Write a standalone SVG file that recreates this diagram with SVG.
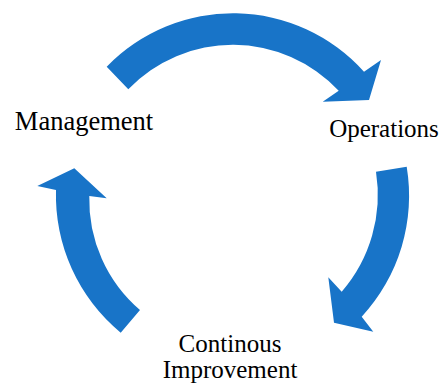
<svg xmlns="http://www.w3.org/2000/svg" width="446" height="383" viewBox="0 0 446 383">
<style>
.arrow{fill:#1874C8;stroke:none}
.lbl{font-size:25px;fill:#000;text-anchor:middle}
</style>
<rect width="446" height="383" fill="#fff"/>
<g id="connectors">
<path id="arrow-top" class="arrow" d="M106.7,66.7 A176,176 0 0 1 364,71.7 L381,60 L369,100 L322.7,101.7 L338.7,90.7 A145,145 0 0 0 128.3,89.3 Z"/>
<path id="arrow-right" class="arrow" d="M406.7,166.7 A178,178 0 0 1 361.7,316.7 L373.3,331.7 L334,322.7 L328.3,277.3 L341.7,291.7 A148,148 0 0 0 376,171.7 Z"/>
<path id="arrow-left" class="arrow" d="M120.7,332.7 A178,178 0 0 1 56,190 L37.3,186 L74.3,168.3 L106.7,198.3 L89.3,196 A145,145 0 0 0 140,310 Z"/>
</g>
<g id="labels" font-family="'Liberation Serif', 'DejaVu Serif', 'Times New Roman', serif">
<g id="management"><text class="lbl" x="84" y="130" style="font-size:26.5px">Management</text></g>
<g id="operations"><text class="lbl" x="384" y="137">Operations</text></g>
<g id="continous-improvement"><text class="lbl" x="230" y="352">Continous</text><text class="lbl" x="230" y="378">Improvement</text></g>
</g>
</svg>
